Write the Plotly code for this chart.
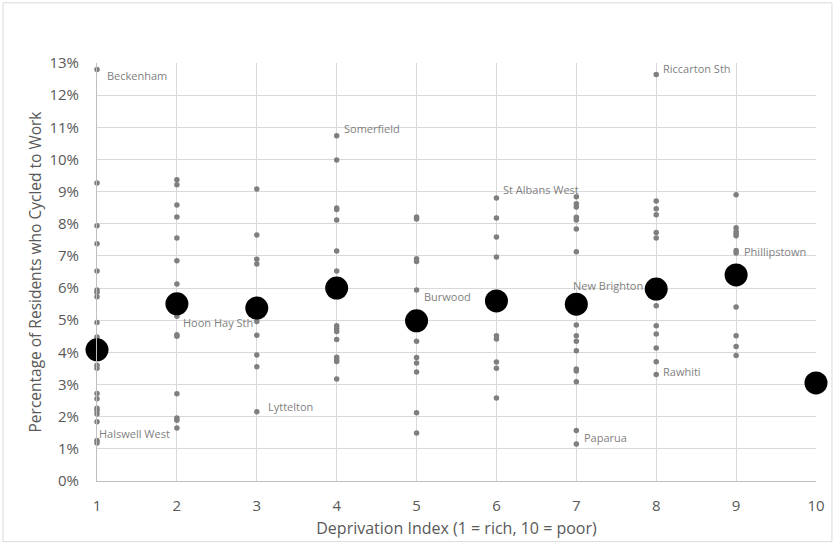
import plotly.graph_objects as go

# deprivation index categories (x axis)
deprivation = [1, 2, 3, 4, 5, 6, 7, 8, 9, 10]

# % of residents who cycled to work, one list per deprivation index
d1 = [12.8, 9.27, 7.94, 7.38, 6.53, 5.94, 5.87, 5.73, 4.93, 4.48, 3.6, 3.51,
      2.72, 2.56, 2.26, 2.19, 2.08, 1.84, 1.26, 1.18]
d2 = [9.37, 9.21, 8.58, 8.21, 7.56, 6.85, 6.13, 5.12, 4.55, 4.5, 2.71, 1.96, 1.89, 1.65]
d3 = [9.08, 7.65, 6.9, 6.75, 4.96, 4.53, 3.92, 3.55, 2.15]
d4 = [10.74, 9.98, 8.49, 8.44, 8.12, 7.15, 6.53, 4.83, 4.74, 4.65, 4.4, 3.85, 3.77, 3.72, 3.17]
d5 = [8.21, 8.15, 6.91, 6.83, 5.94, 4.35, 3.84, 3.67, 3.39, 2.12, 1.49]
d6 = [8.8, 8.18, 7.59, 6.97, 4.52, 4.42, 3.7, 3.51, 2.58]
d7 = [8.84, 8.62, 8.52, 8.2, 8.12, 7.84, 7.13, 4.85, 4.52, 4.35, 4.05, 3.48, 3.42, 3.09, 1.57, 1.15]
d8 = [12.64, 8.71, 8.47, 8.28, 7.73, 7.56, 5.45, 4.83, 4.57, 4.14, 3.71, 3.31]
d9 = [8.9, 7.88, 7.76, 7.68, 7.63, 7.17, 7.09, 5.41, 4.52, 4.18, 3.9]
d10 = []

# average for each deprivation index (big black dots)
averages = [4.08, 5.51, 5.38, 6.0, 4.98, 5.6, 5.5, 5.97, 6.41, 3.05]

# labelled suburbs: name, deprivation index, value
label_names = ["Beckenham", "Halswell West", "Hoon Hay Sth", "Lyttelton", "Somerfield",
               "Burwood", "St Albans West", "New Brighton", "Paparua", "Riccarton Sth",
               "Rawhiti", "Phillipstown"]
label_x = [1, 1, 2, 3, 4, 5, 6, 7, 7, 8, 8, 9]
label_y = [12.8, 1.26, 5.12, 2.15, 10.74, 5.94, 8.8, 5.5, 1.57, 12.64, 3.31, 7.09]

# pixel offsets of each label from its point
label_shift = [(8, -6), (0, 7), (4, -6), (9, 5), (5, 7), (5, -6), (5, 9),
               (-5, 19), (6, -7), (5, 6), (5, 3), (6, 2)]

columns = [d1, d2, d3, d4, d5, d6, d7, d8, d9, d10]
xs, ys = [], []
for d, vals in zip(deprivation, columns):
    xs += [d] * len(vals)
    ys += vals

fig = go.Figure()
fig.add_trace(go.Scatter(x=xs, y=ys, mode="markers",
                         marker=dict(color="#7f7f7f", size=5.5), cliponaxis=False))
fig.add_trace(go.Scatter(x=deprivation, y=averages, mode="markers",
                         marker=dict(color="black", size=23), cliponaxis=False))

for name, x, y, (dx, dy) in zip(label_names, label_x, label_y, label_shift):
    fig.add_annotation(x=x, y=y, text=name, showarrow=False, xanchor="left",
                       yanchor="middle", xshift=dx, yshift=dy,
                       font=dict(size=11, color="#7f7f7f"))

# outer chart border
fig.add_shape(type="rect", xref="paper", yref="paper", x0=-0.1307, x1=1.0222,
              y0=-0.145, y1=1.144, line=dict(color="#d9d9d9", width=1))

fig.update_xaxes(range=[1, 10], dtick=1, showgrid=True, gridcolor="#d9d9d9",
                 showline=True, linecolor="#bfbfbf", zeroline=False,
                 tickfont=dict(size=15, color="#595959"), ticklabelstandoff=11,
                 title=dict(text="Deprivation Index (1 = rich, 10 = poor)",
                            font=dict(size=16, color="#595959"), standoff=8))
fig.update_yaxes(range=[0, 13], dtick=1, ticksuffix="%", showgrid=True,
                 gridcolor="#d9d9d9", showline=True, linecolor="#bfbfbf",
                 zeroline=False, tickfont=dict(size=15, color="#595959"),
                 ticklabelstandoff=14,
                 title=dict(text="Percentage of Residents who Cycled to Work",
                            font=dict(size=15.5, color="#595959"), standoff=4))
fig.update_layout(width=838, height=547, showlegend=False,
                  margin=dict(l=97, r=22, t=63, b=66),
                  plot_bgcolor="white", paper_bgcolor="white",
                  font=dict(family="Open Sans"))
fig.write_html("out.html", config={"displayModeBar": False},
               post_script="document.body.style.margin='0';")
